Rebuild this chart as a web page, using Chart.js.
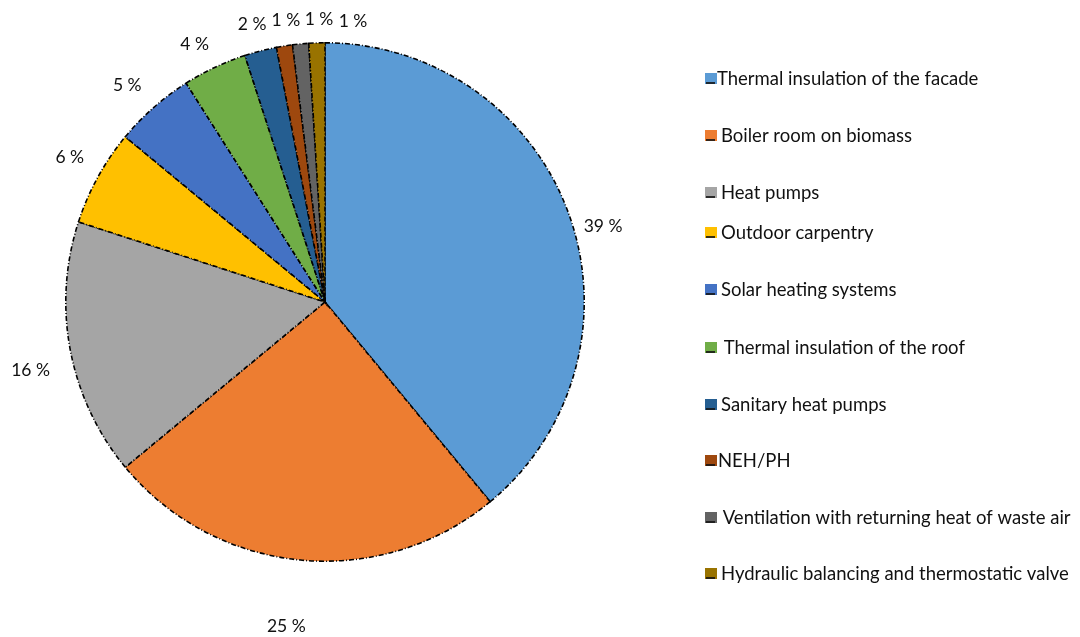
<!DOCTYPE html>
<html>
<head>
<meta charset="utf-8">
<title>Energy efficiency measures</title>
<script src="https://cdn.jsdelivr.net/npm/chart.js@4.4.1/dist/chart.umd.min.js"></script>
<style>
  html, body { margin: 0; padding: 0; background: #ffffff; }
  #wrap { width: 1080px; height: 637px; position: relative; }
</style>
</head>
<body>
<div id="wrap"><canvas id="chart" width="1080" height="637"></canvas></div>
<script>
// Share of each measure (percent)
const categories = [
  "Thermal insulation of the facade",
  "Boiler room on biomass",
  "Heat pumps",
  "Outdoor carpentry",
  "Solar heating systems",
  " Thermal insulation of the roof",
  "Sanitary heat pumps",
  "NEH/PH",
  " Ventilation with returning heat of waste air",
  "Hydraulic balancing and thermostatic valve"
];
const shares = [39, 25, 16, 6, 5, 4, 2, 1, 1, 1];
const sliceColors = [
  "#5B9BD5", "#ED7D31", "#A5A5A5", "#FFC000", "#4472C4",
  "#70AD47", "#255E91", "#9E480E", "#636363", "#997300"
];

// Value labels: angular nudge (degrees) and distance beyond the rim (px)
const labelNudge = [4.6, 1.4, -2.2, 0.7, -1.0, -1.6, -0.3, 1.1, 4.2, 7.5];
const labelGap = [29, 67, 43, 34, 34, 30, 28, 25, 24, 23];

// Legend row centres and text indents (px)
const legendRows = [78, 135, 192, 232, 289, 347, 404, 460, 517, 573];
const legendIndent = [0, 4, 4, 4, 4, 2, 4, 1, 1, 4];

const FONT = "Lato, 'Open Sans', sans-serif";

const valueLabels = {
  id: "valueLabels",
  afterDatasetsDraw(chart) {
    const ctx = chart.ctx;
    const meta = chart.getDatasetMeta(0);
    ctx.save();
    ctx.font = "17.5px " + FONT;
    ctx.fillStyle = "#111111";
    ctx.textAlign = "center";
    ctx.textBaseline = "middle";
    meta.data.forEach((arc, i) => {
      const p = arc.getProps(["x", "y", "startAngle", "endAngle", "outerRadius"], true);
      const a = (p.startAngle + p.endAngle) / 2 + labelNudge[i] * Math.PI / 180;
      const r = p.outerRadius + labelGap[i];
      ctx.fillText(shares[i] + " %", p.x + r * Math.cos(a), p.y + r * Math.sin(a));
    });
    ctx.restore();
  }
};

const sideLegend = {
  id: "sideLegend",
  afterDraw(chart) {
    const ctx = chart.ctx;
    ctx.save();
    ctx.font = "18.5px " + FONT;
    ctx.textAlign = "left";
    ctx.textBaseline = "middle";
    categories.forEach((name, i) => {
      const y = legendRows[i];
      ctx.fillStyle = sliceColors[i];
      ctx.fillRect(705, y - 5, 12, 11);
      ctx.fillStyle = "rgba(20,20,20,0.85)";
      ctx.fillRect(706, y + 4, 9, 2);
      ctx.fillStyle = "#111111";
      ctx.fillText(name, 717 + legendIndent[i], y + 1);
    });
    ctx.restore();
  }
};

new Chart(document.getElementById("chart"), {
  type: "pie",
  data: {
    labels: categories,
    datasets: [{
      data: shares,
      backgroundColor: sliceColors,
      borderColor: "#000000",
      borderWidth: 1.6,
      borderDash: [5, 2, 1, 2],
      borderJoinStyle: "miter"
    }]
  },
  options: {
    responsive: false,
    animation: false,
    layout: { padding: { left: 65, right: 495, top: 42, bottom: 75 } },
    plugins: {
      legend: { display: false },
      tooltip: { enabled: false },
      title: { display: false }
    }
  },
  plugins: [valueLabels, sideLegend]
});
</script>
</body>
</html>
